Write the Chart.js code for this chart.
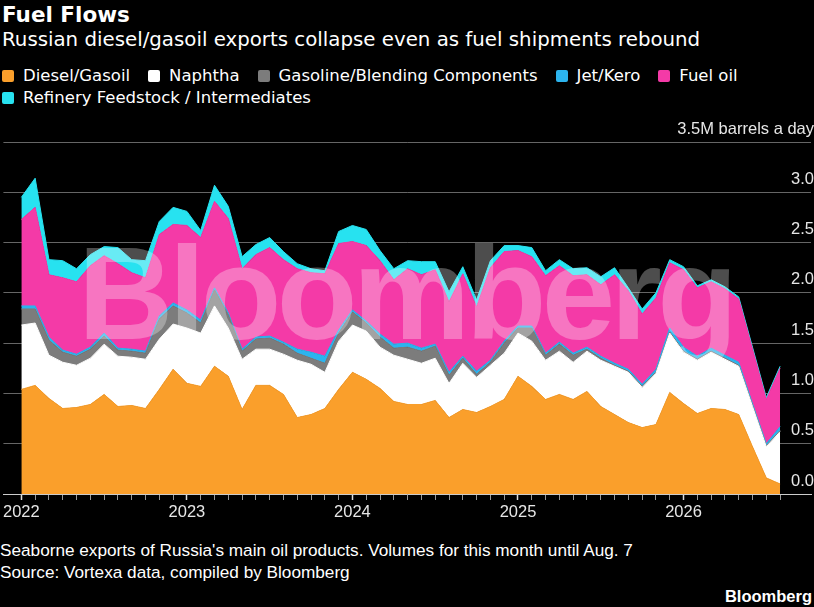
<!DOCTYPE html>
<html>
<head>
<meta charset="utf-8">
<script src="https://cdn.jsdelivr.net/npm/chart.js@4.4.1/dist/chart.umd.min.js"></script>
<style>
  body { margin: 0; background: #000; width: 814px; height: 607px; overflow: hidden; position: relative;
         font-family: "DejaVu Sans", sans-serif; color: #fff; }
  .txt { position: absolute; white-space: nowrap; }
  #title { left: 2px; top: 0; font-weight: bold; font-size: 21.5px; line-height: 30px; }
  #subtitle { left: 2px; top: 27px; font-size: 19.8px; line-height: 26px; }
  #legend { position: absolute; left: 2px; top: 65px; width: 812px; display: flex; flex-wrap: wrap;
            column-gap: 18px; font-size: 16.5px; line-height: 22px; }
  #legend .item { display: flex; align-items: center; }
  #legend .box { width: 12px; height: 12px; border-radius: 2px; margin-right: 9px; }
  #wrap { position: absolute; left: 0; top: 110px; width: 814px; height: 420px; }
  #mark { position: absolute; left: 78px; top: 228px; font-family: "Liberation Sans", sans-serif;
          font-weight: bold; font-size: 132px; line-height: 132px; letter-spacing: -4.6px;
          color: rgba(255, 255, 255, 0.3); pointer-events: none; }
  .foot { font-family: "Liberation Sans", sans-serif; font-size: 17.2px; line-height: 22px; }
  #note1 { left: 0; top: 539px; }
  #note2 { left: 0; top: 561px; }
  #brand { right: 2px; top: 585px; font-size: 16.5px; font-weight: bold; }
</style>
</head>
<body>
<div id="title" class="txt">Fuel Flows</div>
<div id="subtitle" class="txt">Russian diesel/gasoil exports collapse even as fuel shipments rebound</div>
<div id="legend"></div>
<div id="wrap"><canvas id="chart"></canvas></div>
<div id="mark">Bloomberg</div>
<div id="note1" class="txt foot">Seaborne exports of Russia's main oil products. Volumes for this month until Aug. 7</div>
<div id="note2" class="txt foot">Source: Vortexa data, compiled by Bloomberg</div>
<div id="brand" class="txt foot">Bloomberg</div>

<script>
// Months Jan 2022 .. Aug 2026
var months = [];
for (var y = 2022; y <= 2026; y++) {
    for (var m = 1; m <= 12; m++) {
        if (y === 2026 && m > 8) break;
        months.push(y + '-' + (m < 10 ? '0' + m : m));
    }
}
var yearTicks = ['2022', '2023', '2024', '2025', '2026'];

// Million barrels a day
var diesel = [1.04, 1.08, 0.95, 0.85, 0.86, 0.89, 0.99, 0.87, 0.88, 0.85,
              1.04, 1.24, 1.10, 1.07, 1.27, 1.17, 0.84, 1.08, 1.08, 0.99,
              0.76, 0.79, 0.85, 1.04, 1.21, 1.14, 1.05, 0.92, 0.89, 0.89,
              0.93, 0.76, 0.84, 0.81, 0.87, 0.94, 1.17, 1.07, 0.94, 0.99,
              0.94, 1.02, 0.87, 0.79, 0.71, 0.66, 0.69, 1.01, 0.90, 0.80,
              0.85, 0.84, 0.79, 0.47, 0.16, 0.10];
var naphtha = [0.64, 0.62, 0.43, 0.46, 0.42, 0.46, 0.50, 0.50, 0.48, 0.49,
               0.50, 0.45, 0.55, 0.53, 0.60, 0.48, 0.50, 0.36, 0.36, 0.40,
               0.57, 0.50, 0.36, 0.48, 0.47, 0.48, 0.41, 0.46, 0.45, 0.41,
               0.42, 0.34, 0.46, 0.35, 0.41, 0.46, 0.43, 0.45, 0.39, 0.43,
               0.37, 0.40, 0.46, 0.48, 0.50, 0.40, 0.51, 0.59, 0.51, 0.53,
               0.56, 0.50, 0.48, 0.40, 0.31, 0.52];
var gasoline = [0.16, 0.14, 0.15, 0.10, 0.09, 0.09, 0.08, 0.06, 0.06, 0.06,
                0.20, 0.18, 0.15, 0.10, 0.16, 0.13, 0.08, 0.10, 0.11, 0.10,
                0.07, 0.06, 0.09, 0.08, 0.13, 0.08, 0.10, 0.07, 0.12, 0.12,
                0.12, 0.08, 0.05, 0.03, 0.03, 0.10, 0.05, 0.13, 0.05, 0.07,
                0.07, 0.02, 0.02, 0.01, 0.01, 0.01, 0.01, 0.01, 0.01, 0.01,
                0.01, 0.01, 0.01, 0.01, 0.01, 0.01];
var jetKero = [0.03, 0.03, 0.03, 0.02, 0.02, 0.02, 0.03, 0.02, 0.02, 0.02,
               0.03, 0.03, 0.03, 0.03, 0.02, 0.02, 0.02, 0.02, 0.02, 0.02,
               0.04, 0.06, 0.07, 0.03, 0.02, 0.02, 0.03, 0.04, 0.04, 0.03,
               0.02, 0.03, 0.02, 0.03, 0.02, 0.02, 0.02, 0.02, 0.02, 0.02,
               0.02, 0.02, 0.02, 0.02, 0.02, 0.02, 0.03, 0.04, 0.04, 0.03,
               0.03, 0.03, 0.03, 0.02, 0.02, 0.04];
var fuelOil = [0.86, 0.98, 0.62, 0.72, 0.72, 0.81, 0.77, 0.84, 0.76, 0.73,
               0.81, 0.78, 0.84, 0.82, 0.86, 0.94, 0.80, 0.82, 0.88, 0.82,
               0.80, 0.79, 0.82, 0.86, 0.68, 0.75, 0.73, 0.64, 0.74, 0.73,
               0.74, 0.70, 0.82, 0.64, 0.92, 0.89, 0.75, 0.69, 0.77, 0.76,
               0.77, 0.72, 0.71, 0.88, 0.78, 0.70, 0.71, 0.65, 0.77, 0.68,
               0.66, 0.66, 0.63, 0.54, 0.44, 0.58];
var feedstock = [0.22, 0.29, 0.15, 0.17, 0.13, 0.11, 0.09, 0.16, 0.13, 0.17,
                 0.13, 0.17, 0.14, 0.07, 0.16, 0.12, 0.12, 0.10, 0.10, 0.08,
                 0.05, 0.04, 0.03, 0.12, 0.16, 0.16, 0.10, 0.11, 0.08, 0.13,
                 0.08, 0.10, 0.07, 0.07, 0.07, 0.06, 0.05, 0.09, 0.05, 0.06,
                 0.07, 0.07, 0.08, 0.07, 0.03, 0.05, 0.05, 0.03, 0.03, 0.02,
                 0.02, 0.02, 0.02, 0.02, 0.02, 0.02];

var names = ['Diesel/Gasoil', 'Naphtha', 'Gasoline/Blending Components', 'Jet/Kero', 'Fuel oil',
             'Refinery Feedstock / Intermediates'];
var series = [diesel, naphtha, gasoline, jetKero, fuelOil, feedstock];
var colors = ['#fa9f2b', '#ffffff', '#7c7c7c', '#2cb4ee', '#f43aa7', '#27e2f0'];

// Legend (HTML)
var legend = document.getElementById('legend');
names.forEach(function (n, i) {
    var item = document.createElement('div');
    item.className = 'item';
    item.innerHTML = '<span class="box" style="background:' + colors[i] + '"></span><span>' + n + '</span>';
    legend.appendChild(item);
});

var datasets = series.map(function (vals, i) {
    return {
        label: names[i],
        data: vals.map(function (v, k) { return { x: k, y: v }; }),
        backgroundColor: colors[i],
        borderColor: colors[i],
        borderWidth: 1,
        pointRadius: 0,
        tension: 0,
        fill: i === 0 ? 'origin' : '-1'
    };
});

var font = { family: '"Liberation Sans", sans-serif', size: 16.5 };

new Chart(document.getElementById('chart'), {
    type: 'line',
    data: { datasets: datasets },
    options: {
        responsive: true,
        maintainAspectRatio: false,
        animation: false,
        layout: { padding: { top: 32, left: 0, right: 0, bottom: 0 } },
        plugins: { legend: { display: false }, tooltip: { enabled: false } },
        scales: {
            x: {
                type: 'linear',
                bounds: 'data',
                min: -1.3,
                max: 57.24,
                afterBuildTicks: function (s) {
                    s.ticks = months.map(function (m, i) { return { value: i }; });
                },
                afterFit: function (s) { s.height = 36; },
                grid: {
                    drawOnChartArea: false,
                    tickLength: 6,
                    tickColor: function (c) { return c.tick && c.tick.value % 12 === 0 ? '#dddddd' : '#9a9a9a'; },
                    tickWidth: function (c) { return c.tick && c.tick.value % 12 === 0 ? 1.5 : 1; }
                },
                border: { display: true, color: '#cccccc', width: 1 },
                ticks: {
                    autoSkip: false,
                    maxRotation: 0,
                    padding: 3,
                    color: '#e6e6e6',
                    font: font,
                    callback: function (v) { return v % 12 === 0 ? yearTicks[v / 12] : ''; }
                }
            },
            y: {
                stacked: true,
                position: 'right',
                min: 0,
                max: 3.5,
                afterFit: function (s) { s.width = 3; },
                grid: { color: '#666666', drawTicks: false },
                border: { display: false },
                ticks: {
                    stepSize: 0.5,
                    mirror: true,
                    padding: 3,
                    labelOffset: -13,
                    color: '#e6e6e6',
                    font: font,
                    callback: function (v) { return v === 3.5 ? '3.5M barrels a day' : v.toFixed(1); }
                }
            }
        }
    }
});
</script>
</body>
</html>
